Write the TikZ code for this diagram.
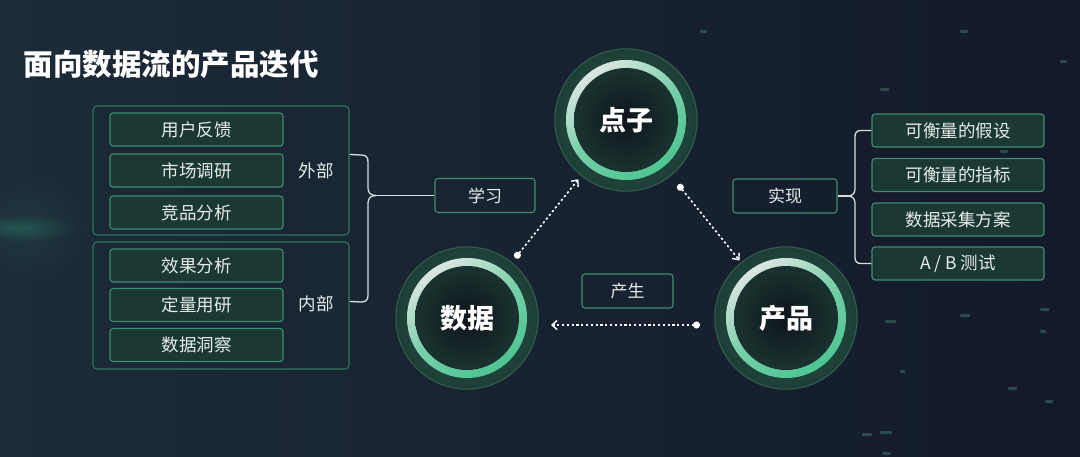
\documentclass[tikz,border=0pt]{standalone}
\usepackage{fontspec}
\setmainfont{Noto Sans CJK SC}
\usetikzlibrary{arrows.meta,calc,fadings}
\tikzfading[name=softglow, inner color=transparent!0, outer color=transparent!100]
\definecolor{bgleft}{HTML}{1C2B38}
\definecolor{bgright}{HTML}{131A2A}
\definecolor{boxline}{HTML}{3E8E70}
\definecolor{outline}{HTML}{2F7560}
\definecolor{boxfill}{HTML}{1C3833}
\definecolor{txt}{HTML}{E6ECEA}
\definecolor{glowin}{HTML}{2B5E4F}
\definecolor{glowout}{HTML}{1C3D35}
\definecolor{ringpale}{HTML}{DCE6E2}
\definecolor{ringgreen}{HTML}{4CC592}
\definecolor{discin}{HTML}{0E141D}
\definecolor{discout}{HTML}{1A332F}
\definecolor{brc}{HTML}{D6DEE0}
\definecolor{haze}{HTML}{2E8068}
\definecolor{speck}{HTML}{4FA889}
\begin{document}
\begin{tikzpicture}[x=1pt,y=-1pt,
  inbox/.style={draw=boxline, fill=boxfill, rounded corners=3pt, line width=1.1pt,
    minimum width=173pt, minimum height=33pt, inner sep=0pt, text=txt,
    font=\fontsize{17.5}{18}\selectfont},
  rbox/.style={inbox, minimum width=172pt},
  outbox/.style={draw=outline, rounded corners=4pt, line width=1.1pt,
    minimum width=256pt, inner sep=0pt},
  lbl/.style={draw=boxline, rounded corners=3pt, line width=1.1pt, inner sep=0pt,
    minimum height=34pt, text=txt, font=\fontsize{17}{18}\selectfont},
  side/.style={text=txt, font=\fontsize{17.5}{18}\selectfont},
  hub/.style={circle, minimum size=146pt, inner sep=0pt, text=white,
    font=\bfseries\fontsize{27}{28}\selectfont,
    path picture={
      \shade[inner color=glowin, outer color=glowout]
        (path picture bounding box.center) circle (72pt);
      \draw[glowin!80!white, line width=0.8pt, opacity=0.5]
        (path picture bounding box.center) circle (71pt);
      \shade[left color=ringpale, right color=ringgreen, middle color=ringgreen!70!ringpale, shading angle=35]
        (path picture bounding box.center) circle (60pt);
      \shade[inner color=discin, outer color=discout]
        (path picture bounding box.center) circle (52pt);
    }},
  flow/.style={white, line width=1.6pt, dash pattern=on 2.2pt off 2.6pt,
    {Circle[length=7pt]}-{Straight Barb[length=5pt,width=9pt,line width=1.4pt]}},
  brace/.style={brc, line width=1.3pt},
  speckle/.style={fill=speck, opacity=0.35, rounded corners=1pt}
]
\useasboundingbox (0,0) rectangle (1080,456);
% background
\shade[left color=bgleft, right color=bgright] (0,0) rectangle (1080,456);
\fill[haze, opacity=0.45, path fading=softglow] (18,228) ellipse (60pt and 14pt);
\fill[haze, opacity=0.15, path fading=softglow] (30,228) circle (60pt);
% faint data speckles
\foreach \x/\y/\w in {885/320/11, 960/314/10, 1040/308/9, 1008/387/9, 1045/400/8,
    862/433/10, 880/431/12, 882/452/9, 1000/150/8, 1060/60/7, 960/30/8, 880/88/9,
    700/30/7, 1040/330/6, 900/370/5}
  \fill[speckle] (\x,\y) rectangle ++(\w,3);

% title
\node[text=white, anchor=west, font=\bfseries\fontsize{29.5}{30}\selectfont] (title) at (20,64) {面向数据流的产品迭代};

% left outer boxes
\node[outbox, minimum height=129pt] (wb) at (221,170.5) {};
\node[outbox, minimum height=127pt] (nb) at (221,305.5) {};
\node[inbox] (l1) at (196.5,129.5) {用户反馈};
\node[inbox] (l2) at (196.5,170.5) {市场调研};
\node[inbox] (l3) at (196.5,212.5) {竞品分析};
\node[inbox] (l4) at (196.5,265.5) {效果分析};
\node[inbox] (l5) at (196.5,305) {定量用研};
\node[inbox] (l6) at (196.5,345) {数据洞察};
\node[side] (wl) at (316,171) {外部};
\node[side] (nl) at (316,304) {内部};

% labels
\node[lbl, minimum width=100pt] (xx) at (485,195.5) {学习};
\node[lbl, minimum width=91pt] (cs) at (627.5,291) {产生};
\node[lbl, minimum width=104pt] (sx) at (785,196) {实现};

% left brace
\coordinate (lp) at (376,195.5);
\draw[brace] ($(wb.north east)+(0,49)$) -- (361,155) .. controls (366,155) and (368,157) .. (368,162)
  -- (368,188) .. controls (368,193) and (371,195.5) .. (lp);
\draw[brace] (lp) .. controls (371,195.5) and (368,198) .. (368,203)
  -- (368,295) .. controls (368,300) and (366,302) .. (361,302) -- ($(nb.north east)+(0,60)$);
\draw[brace] (lp) -- (xx.west);

% right boxes
\node[rbox] (r1) at (958,130.5) {可衡量的假设};
\node[rbox] (r2) at (958,175) {可衡量的指标};
\node[rbox] (r3) at (958,219.5) {数据采集方案};
\node[rbox] (r4) at (958,263.5) {A / B 测试};

% right brace
\coordinate (rp) at (848,196);
\draw[brace] (sx.east) -- (rp);
\draw[brace] (r1.west) -- (861,130.5) .. controls (857,130.5) and (855,132.5) .. (855,136.5)
  -- (855,189) .. controls (855,193.5) and (852,196) .. (rp);
\draw[brace] (rp) .. controls (852,196) and (855,198.5) .. (855,203)
  -- (855,257.5) .. controls (855,261.5) and (857,263.5) .. (861,263.5) -- (r4.west);

% hubs
\node[hub] (dz) at (626,120) {点子};
\node[hub] (sj) at (467,318) {数据};
\node[hub] (cp) at (786,318) {产品};

% flows
\draw[flow] ($(sj)!77pt!(dz)$) -- ($(dz)!76pt!(sj)$);
\draw[flow] ($(dz)!83pt!(cp)$) -- ($(cp)!74pt!(dz)$);
\draw[flow] ($(cp)+(-86,7)$) -- ($(sj)+(84,7)$);
\end{tikzpicture}
\end{document}
